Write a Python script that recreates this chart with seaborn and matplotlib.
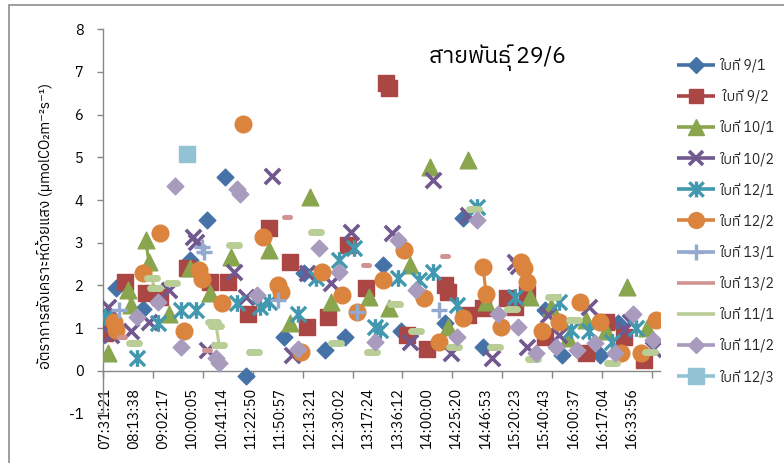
import numpy as np
import pandas as pd
import matplotlib
matplotlib.use("Agg")
import matplotlib.pyplot as plt
import seaborn as sns
from matplotlib import font_manager
from matplotlib.ft2font import FT2Font
from matplotlib.path import Path
from matplotlib.lines import Line2D
from matplotlib.patches import Rectangle

# ---------------- data ----------------
N_CATEGORIES = 190
tick_labels = ["07:31:21", "08:13:38", "09:02:17", "10:00:05", "10:41:14", "11:22:50",
               "11:50:57", "12:13:21", "12:30:02", "13:17:24", "13:36:12", "14:00:00",
               "14:25:20", "14:46:53", "15:20:23", "15:40:43", "16:00:37", "16:17:04",
               "16:33:56"]

series_names = ["ใบที่ 9/1", " ใบที่ 9/2", "ใบที่ 10/1", "ใบที่ 10/2", "ใบที่ 12/1", "ใบที่ 12/2",
                "ใบที่ 13/1", "ใบที่ 13/2", "ใบที่ 11/1", "ใบที่ 11/2", "ใบที่ 12/3"]

s91_idx = [0, 4, 13, 29, 35, 41, 48, 61, 68, 75, 82, 95, 101, 116, 122, 129, 150, 156, 169, 175]
s91_val = [1.25, 1.95, 1.45, 2.6, 3.53, 4.55, -0.12, 0.8, 2.28, 0.49, 0.8, 2.48, 0.92, 1.11, 3.57,
           0.56, 1.42, 0.37, 0.37, 1.11]

s92_idx = [0, 7, 14, 19, 28, 36, 42, 49, 56, 63, 69, 76, 83, 89, 96, 97, 103, 110, 116, 117, 124,
           129, 137, 140, 144, 150, 164, 171, 177, 184]
s92_val = [0.88, 2.09, 1.81, 1.73, 2.4, 2.09, 2.09, 1.34, 3.34, 2.55, 1.03, 1.27, 2.95, 1.93, 6.75,
           6.62, 0.84, 0.52, 2.0, 1.85, 1.31, 1.46, 1.7, 1.5, 1.8, 0.8, 0.41, 1.15, 0.8, 0.25]

s101_idx = [1, 8, 9, 14, 15, 22, 29, 36, 43, 56, 63, 70, 77, 90, 97, 104, 111, 117, 124, 130, 145,
            152, 158, 164, 171, 178, 185]
s101_val = [0.41, 1.89, 1.54, 3.06, 2.55, 1.34, 2.4, 1.81, 2.67, 2.83, 1.11, 4.07, 1.62, 1.73, 1.46,
            2.48, 4.78, 1.03, 4.94, 1.62, 1.73, 1.5, 0.76, 1.19, 0.92, 1.97, 0.99]

s102_idx = [1, 2, 9, 15, 22, 30, 31, 35, 44, 48, 57, 64, 69, 77, 84, 98, 104, 112, 118, 124, 132,
            140, 141, 144, 151, 155, 165, 177, 179, 187]
s102_val = [1.5, 0.84, 0.92, 1.15, 1.89, 3.14, 3.02, 0.49, 2.32, 1.73, 4.56, 0.37, 2.28, 2.05, 3.26,
            3.22, 0.68, 4.47, 0.41, 3.65, 0.3, 2.55, 2.45, 0.56, 1.31, 0.84, 1.5, 0.95, 1.15, 0.52]

s121_idx = [0, 11, 18, 26, 31, 45, 53, 56, 66, 72, 80, 85, 92, 94, 100, 107, 112, 120, 127, 140,
            155, 159, 165, 173, 181]
s121_val = [1.27, 0.3, 1.11, 1.42, 1.42, 1.58, 1.5, 1.62, 1.34, 2.17, 2.59, 2.87, 1.03, 0.95, 2.17,
            2.13, 2.32, 1.54, 3.84, 1.73, 1.62, 0.95, 0.92, 0.68, 0.99]

s122_idx = [3, 4, 13, 19, 27, 32, 33, 40, 47, 54, 59, 60, 67, 74, 81, 86, 95, 102, 109, 114, 122,
            129, 130, 135, 142, 143, 144, 149, 155, 162, 169, 176, 183, 188]
s122_val = [1.15, 0.95, 2.28, 3.22, 0.92, 2.36, 2.16, 1.58, 5.78, 3.14, 2.0, 1.85, 0.45, 2.32, 1.77,
            1.38, 2.13, 2.83, 1.7, 0.68, 1.23, 2.44, 1.8, 1.03, 2.55, 2.4, 2.09, 0.92, 1.15, 1.62,
            1.15, 0.41, 0.41, 1.19]

s131_idx = [5, 33, 34, 59, 86, 114]
s131_val = [1.42, 2.9, 2.78, 1.66, 1.38, 1.42]

s132_idx = [6, 35, 62, 89, 116]
s132_val = [0.8, 0.49, 3.61, 2.48, 2.69]

s111_idx = [10, 16, 17, 23, 37, 38, 39, 44, 51, 72, 79, 91, 99, 106, 119, 126, 133, 139, 146, 153,
            160, 173, 186]
s111_val = [0.64, 2.17, 1.93, 2.05, 1.15, 1.05, 0.6, 2.94, 0.45, 3.26, 0.64, 0.45, 1.56, 0.92, 0.56,
            3.8, 0.56, 1.44, 0.27, 1.73, 1.19, 0.17, 0.45]

s112_idx = [11, 18, 24, 26, 38, 39, 45, 46, 52, 66, 73, 80, 92, 100, 106, 120, 127, 134, 141, 147,
            154, 161, 167, 174, 180, 187]
s112_val = [1.27, 1.62, 4.33, 0.56, 0.29, 0.17, 4.25, 4.15, 1.77, 0.52, 2.87, 2.32, 0.68, 3.06, 1.89,
            0.8, 3.53, 1.34, 1.03, 0.41, 0.56, 0.49, 0.64, 0.41, 1.34, 0.72]

s123_idx = [28]
s123_val = [5.07]

series_idx = [s91_idx, s92_idx, s101_idx, s102_idx, s121_idx, s122_idx, s131_idx, s132_idx,
              s111_idx, s112_idx, s123_idx]
series_val = [s91_val, s92_val, s101_val, s102_val, s121_val, s122_val, s131_val, s132_val,
              s111_val, s112_val, s123_val]

title_text = "สายพันธุ์ 29/6"
ylabel_text = "อัตราการสังเคราะห์ด้วยแสง (µmolCO₂m⁻²s⁻¹)"

# ---------------- fonts ----------------
sns.set_theme(style="white")
thai_cands = []
for f in font_manager.fontManager.ttflist:
    try:
        cmap = FT2Font(f.fname).get_charmap()
    except Exception:
        continue
    if 0x0E43 in cmap and 0x0E1A in cmap and 0x0E17 in cmap:
        thai_cands.append(f.name)
thai_cands = sorted(set(thai_cands), key=lambda n: (0 if "Thai" in n else 1, 0 if "Sans" in n else 1, n))
families = (thai_cands[:1] if thai_cands else []) + ["DejaVu Sans"]
plt.rcParams["font.family"] = families

# ---------------- style ----------------
colors = ["#4572A7", "#AA4643", "#89A54E", "#71588F", "#4198AF", "#DB843D",
          "#93A9CF", "#D19392", "#B9CD96", "#A99BBD", "#92C3D4"]
star = Path([(-0.5, -0.5), (0.5, 0.5), (-0.5, 0.5), (0.5, -0.5), (0, -0.55), (0, 0.55)],
            [Path.MOVETO, Path.LINETO, Path.MOVETO, Path.LINETO, Path.MOVETO, Path.LINETO])
markers = ["D", "s", "^", "x", star, "o", "+", "_", "_", "D", "s"]
msizes = [8.5, 11, 12, 11, 12, 12, 12, 4, 7, 8.5, 12]
mews = [1, 1, 1, 2.6, 2.4, 1, 2.4, 3.6, 5.0, 1, 1]

W, H = 784, 463
fig = plt.figure(figsize=(W / 100, H / 100), dpi=100)
ax_left, ax_right = 103.3 / W, 660.5 / W
ax_top, ax_bottom = 1 - 29.3 / H, 1 - 413.4 / H
ax = fig.add_axes([ax_left, ax_bottom, ax_right - ax_left, ax_top - ax_bottom])

handles = []
for k in range(len(series_names)):
    idx = np.array(series_idx[k])
    val = np.array(series_val[k], dtype=float)
    run = np.concatenate([[0], np.cumsum(np.diff(idx) > 1)])
    df = pd.DataFrame({"x": idx, "y": val, "run": run})
    if len(idx) > 1:
        sns.lineplot(data=df, x="x", y="y", units="run", estimator=None, color=colors[k],
                     linewidth=2.25, ax=ax, legend=False, sort=False)
    m = markers[k]
    filled = m in ("D", "s", "^", "o")
    kw = dict(marker=m, s=msizes[k] ** 2, ax=ax, legend=False, zorder=3 + k * 0.01)
    if filled:
        sns.scatterplot(data=df, x="x", y="y", color=colors[k], edgecolor=colors[k],
                        linewidth=mews[k], **kw)
    else:
        coll = sns.scatterplot(data=df, x="x", y="y", color=colors[k],
                               linewidth=mews[k], **kw).collections[-1]
        coll.set_edgecolor(colors[k])
        coll.set_linewidth(mews[k])
        if m == "_":
            coll.set_capstyle("round")
    if m == "_":
        handles.append(Line2D([0], [0], color=colors[k], lw=2.6, solid_capstyle="butt"))
    else:
        handles.append(Line2D([0], [0], color=colors[k], lw=2.6, marker=m,
                              markersize=msizes[k] * 0.95, markeredgewidth=mews[k],
                              markerfacecolor=colors[k], markeredgecolor=colors[k],
                              solid_capstyle="butt"))

# ---------------- axes ----------------
ax.set_xlim(-0.5, N_CATEGORIES - 0.5)
ax.set_ylim(-1, 8)
ax.set_xlabel("")
ax.set_ylabel("")
for side in ["top", "right"]:
    ax.spines[side].set_visible(False)
axis_col = "#868686"
ax.spines["left"].set_color(axis_col)
ax.spines["bottom"].set_color(axis_col)
ax.spines["bottom"].set_position(("data", 0))
ax.spines["left"].set_linewidth(1)
ax.spines["bottom"].set_linewidth(1)

ax.set_yticks(range(-1, 9))
ax.set_yticklabels([str(v) for v in range(-1, 9)])
ax.tick_params(axis="y", direction="out", length=4.3, width=1, color=axis_col, pad=10,
               labelsize=10.5, labelcolor="black", left=True)

ax.set_xticks(np.arange(0, N_CATEGORIES, 10))
ax.set_xticklabels(tick_labels, rotation=90)
ax.set_xticks(np.arange(-0.5, N_CATEGORIES - 0.5, 17), minor=True)
ax.tick_params(axis="x", which="major", length=0, pad=12.5, labelsize=10.5, labelcolor="black")
ax.tick_params(axis="x", which="minor", direction="out", length=5, width=1, color=axis_col,
               bottom=True)
ax.grid(False)

# ---------------- texts ----------------
fig.text(497 / W, 1 - 58 / H, title_text, ha="center", va="center", fontsize=16.5, color="black")
fig.text(45 / W, 1 - 226 / H, ylabel_text, rotation=90, ha="center", va="center",
         fontsize=10.5, color="black")

fig.legend(handles, series_names, loc="upper left", bbox_to_anchor=(677 / W, 1 - 58 / H),
           frameon=False, borderpad=0, borderaxespad=0, handlelength=2.75, handletextpad=0.25,
           labelspacing=1.2, fontsize=10)

fig.patches.append(Rectangle((9.3 / W, -0.1), 1.2, 1.1 - 4.7 / H, transform=fig.transFigure,
                             fill=False, edgecolor="#8c8c8c", linewidth=1.2))

fig.savefig("out.png", dpi=100)
